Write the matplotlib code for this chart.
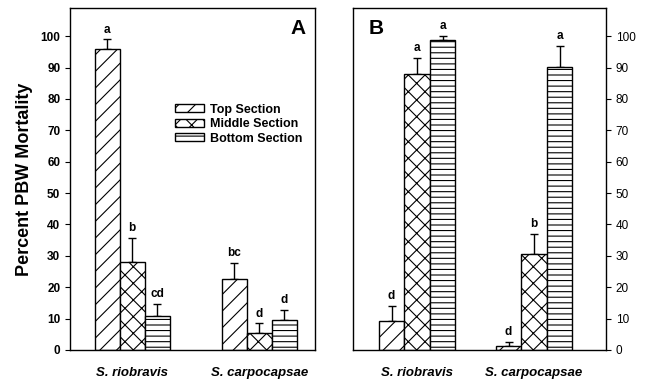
import numpy as np
import matplotlib
matplotlib.use("Agg")
import matplotlib.pyplot as plt

species = ["S. riobravis", "S. carpocapsae"]
sections = ["Top Section", "Middle Section", "Bottom Section"]
hatches = ["//", "xx", "---"]

# panel A
a_mean = [[96.0, 22.7], [28.0, 5.3], [10.7, 9.5]]
a_err = [[3.0, 5.1], [7.7, 3.2], [3.9, 3.3]]
a_lab = [["a", "bc"], ["b", "d"], ["cd", "d"]]

# panel B
b_mean = [[9.3, 1.2], [88.0, 30.5], [98.8, 90.3]]
b_err = [[4.7, 1.3], [5.2, 6.5], [1.4, 6.7]]
b_lab = [["d", "d"], ["a", "b"], ["a", "a"]]

plt.rcParams['font.family'] = ['Liberation Sans', 'DejaVu Sans']
plt.rcParams['hatch.linewidth'] = 0.8

fig = plt.figure(figsize=(6.48, 3.87), dpi=100)
axA = fig.add_axes([70 / 648, 37 / 387, 245 / 648, 342 / 387])
axB = fig.add_axes([353 / 648, 37 / 387, 253 / 648, 342 / 387])


def draw(ax, mean, err, lab, w):
    x = np.arange(len(species))
    for i in range(3):
        xs = x + (i - 1) * w
        ax.bar(xs, mean[i], w, color='white', edgecolor='black',
               hatch=hatches[i], linewidth=1, label=sections[i], zorder=2)
        ax.errorbar(xs, mean[i], yerr=[np.zeros(2), err[i]], fmt='none',
                    ecolor='black', elinewidth=1, capsize=3, capthick=1, zorder=1)
        for xi, m, e, t in zip(xs, mean[i], err[i], lab[i]):
            ax.text(xi, m + e + 1.2, t, ha='center', va='bottom',
                    fontsize=8.5, fontweight='bold')
    ax.set_ylim(0, 109)
    ax.set_yticks(np.arange(0, 101, 10))
    ax.set_xticks(x)
    ax.set_xticklabels(species, fontsize=9.5, fontweight='bold', style='italic')
    ax.tick_params(axis='x', length=0, pad=12)
    ax.tick_params(axis='y', labelsize=8.5, direction='out', length=3.5)
    for lbl in ax.get_yticklabels():
        lbl.set_fontweight('bold')
    for s in ax.spines.values():
        s.set_linewidth(1)


draw(axA, a_mean, a_err, a_lab, 0.197)
axA.set_xlim(-0.49, 1.44)
axA.set_ylabel("Percent PBW Mortality", fontsize=13, fontweight='bold', labelpad=5)
axA.text(0.93, 0.94, "A", transform=axA.transAxes, fontsize=15,
         fontweight='bold', ha='center', va='center')
leg = axA.legend(loc='upper left', bbox_to_anchor=(0.43, 0.72), frameon=False,
                 fontsize=9, handlelength=2.3, handleheight=0.6,
                 handletextpad=0.5, labelspacing=0.2, borderpad=0,
                 borderaxespad=0)
for t in leg.get_texts():
    t.set_fontweight('bold')

draw(axB, b_mean, b_err, b_lab, 0.218)
axB.set_xlim(-0.547, 1.615)
axB.yaxis.tick_right()
axB.text(0.09, 0.94, "B", transform=axB.transAxes, fontsize=15,
         fontweight='bold', ha='center', va='center')

fig.savefig("out.png", dpi=100)
